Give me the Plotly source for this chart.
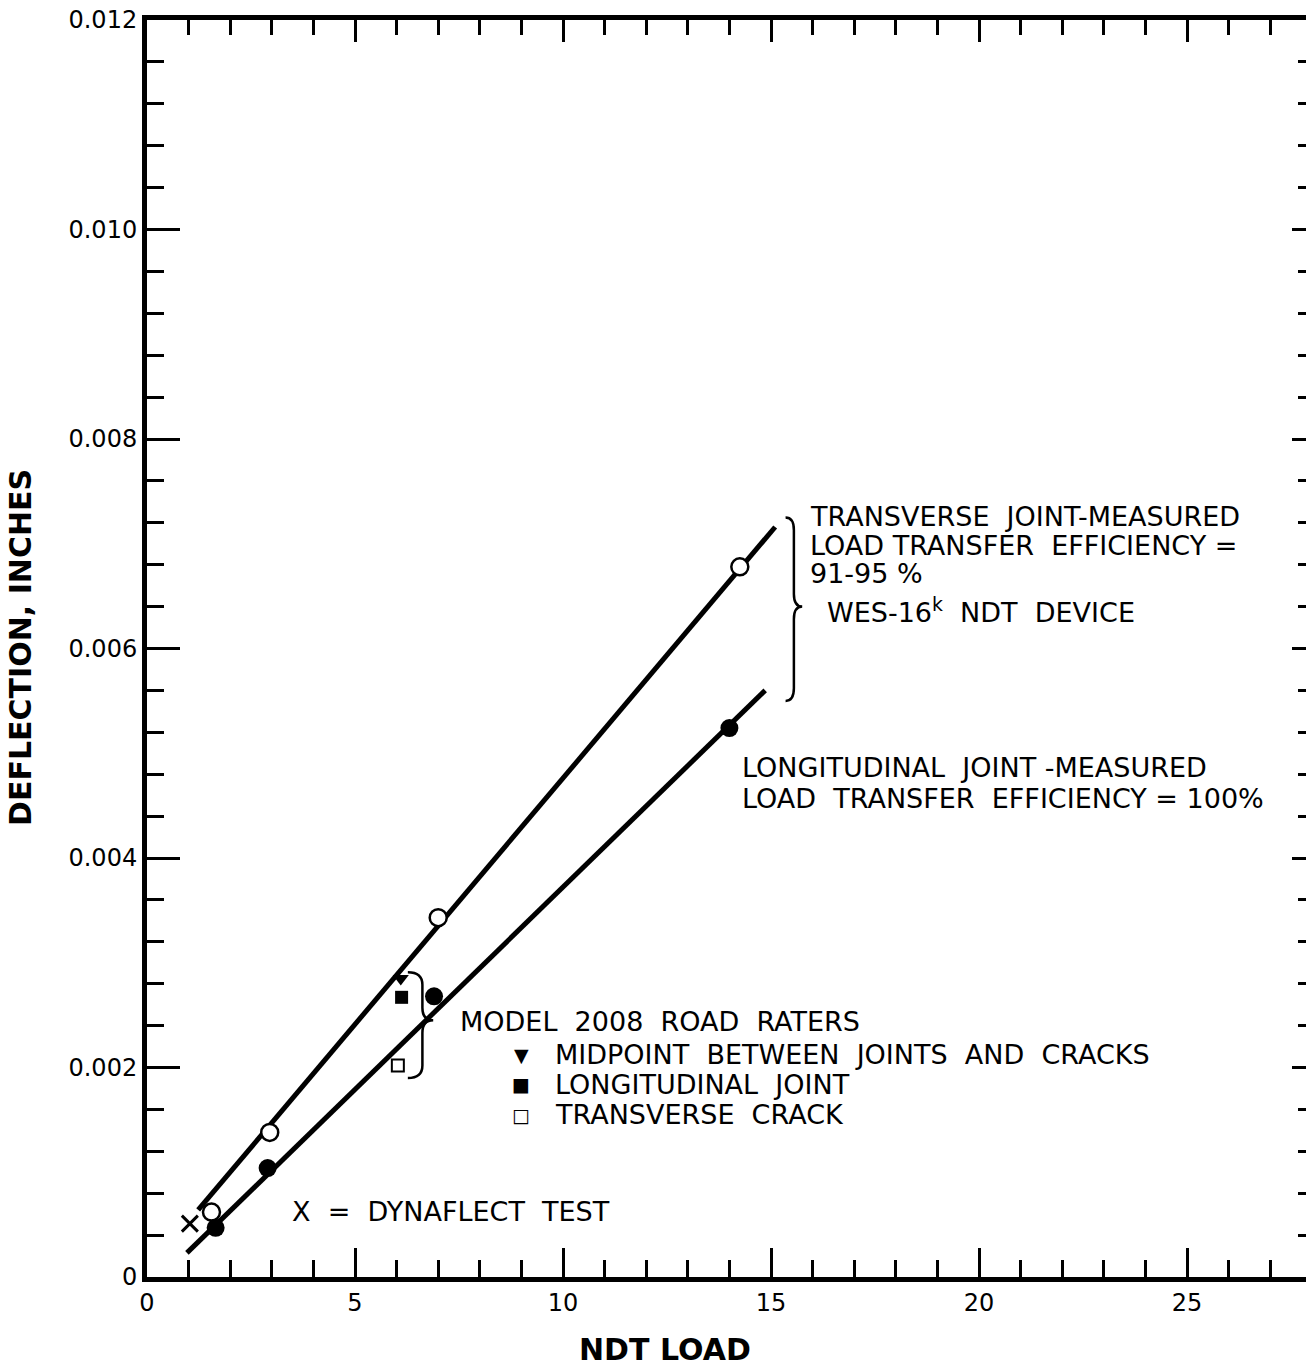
import plotly.graph_objects as go

# NDT load (kips) vs. deflection (inches)
transverse_load = [1.55, 2.95, 7.0, 14.25]
transverse_defl = [0.00062, 0.00138, 0.00343, 0.00678]

longitudinal_load = [1.65, 2.9, 6.9, 14.0]
longitudinal_defl = [0.00047, 0.00104, 0.00268, 0.00524]

# fitted lines (end points)
transverse_fit_load = [1.23, 15.1]
transverse_fit_defl = [0.00064, 0.00716]
longitudinal_fit_load = [0.96, 14.86]
longitudinal_fit_defl = [0.00023, 0.0056]

# Model 2008 Road Rater readings
rr_midpoint_load = [6.1]
rr_midpoint_defl = [0.00285]
rr_longjoint_load = [6.12]
rr_longjoint_defl = [0.00267]
rr_transcrack_load = [6.03]
rr_transcrack_defl = [0.00202]

# Dynaflect test
dynaflect_load = [1.03]
dynaflect_defl = [0.00051]

x_tick_vals = [0, 5, 10, 15, 20, 25]
x_tick_text = ["0", "5", "10", "15", "20", "25"]
y_tick_vals = [0, 0.002, 0.004, 0.006, 0.008, 0.010, 0.012]
y_tick_text = ["0", "0.002", "0.004", "0.006", "0.008", "0.010", "0.012"]

X_RANGE = [0, 27.86]
Y_RANGE = [0, 0.012]

FONT = "DejaVu Sans"
INK = "black"

fig = go.Figure()

fig.add_trace(go.Scatter(x=transverse_fit_load, y=transverse_fit_defl, mode="lines",
                         line=dict(color=INK, width=5), hoverinfo="skip"))
fig.add_trace(go.Scatter(x=longitudinal_fit_load, y=longitudinal_fit_defl, mode="lines",
                         line=dict(color=INK, width=5), hoverinfo="skip"))

fig.add_trace(go.Scatter(x=transverse_load, y=transverse_defl, mode="markers",
                         marker=dict(symbol="circle", size=17, color="white",
                                     line=dict(color=INK, width=2.5))))
fig.add_trace(go.Scatter(x=longitudinal_load, y=longitudinal_defl, mode="markers",
                         marker=dict(symbol="circle", size=18, color=INK,
                                     line=dict(color=INK, width=0))))
fig.add_trace(go.Scatter(x=rr_midpoint_load, y=rr_midpoint_defl, mode="markers",
                         marker=dict(symbol="triangle-down", size=14, color=INK)))
fig.add_trace(go.Scatter(x=rr_longjoint_load, y=rr_longjoint_defl, mode="markers",
                         marker=dict(symbol="square", size=13, color=INK)))
fig.add_trace(go.Scatter(x=rr_transcrack_load, y=rr_transcrack_defl, mode="markers",
                         marker=dict(symbol="square", size=12, color="white",
                                     line=dict(color=INK, width=2))))
fig.add_trace(go.Scatter(x=dynaflect_load, y=dynaflect_defl, mode="markers",
                         marker=dict(symbol="x-thin", size=16,
                                     line=dict(color=INK, width=3))))


def brace(x_hook, x_spine, x_tip, y_top, y_mid, y_bot, r):
    """Right-pointing curly brace as an SVG path in data coordinates."""
    return (f"M {x_hook},{y_top} Q {x_spine},{y_top} {x_spine},{y_top - r} "
            f"L {x_spine},{y_mid + r} Q {x_spine},{y_mid} {x_tip},{y_mid} "
            f"Q {x_spine},{y_mid} {x_spine},{y_mid - r} "
            f"L {x_spine},{y_bot + r} Q {x_spine},{y_bot} {x_hook},{y_bot}")


fig.add_shape(type="path", xref="x", yref="y",
              path=brace(15.35, 15.55, 15.75, 0.00725, 0.0064, 0.0055, 0.00012),
              line=dict(color=INK, width=2.5))
fig.add_shape(type="path", xref="x", yref="y",
              path=brace(6.27, 6.62, 6.88, 0.00291, 0.00245, 0.00190, 0.00012),
              line=dict(color=INK, width=2.5))

text_font = dict(family=FONT, size=27, color=INK)
notes = [
    (15.89, 0.00726, "TRANSVERSE  JOINT-MEASURED"),
    (15.89, 0.00698, "LOAD TRANSFER  EFFICIENCY ="),
    (15.89, 0.00672, "91-95 %"),
    (16.3, 0.00636, "WES-16<sup>k</sup>  NDT  DEVICE"),
    (14.25, 0.00486, "LONGITUDINAL  JOINT -MEASURED"),
    (14.25, 0.00457, "LOAD  TRANSFER  EFFICIENCY = 100%"),
    (7.48, 0.00244, "MODEL  2008  ROAD  RATERS"),
    (9.75, 0.00212, "MIDPOINT  BETWEEN  JOINTS  AND  CRACKS"),
    (9.75, 0.00184, "LONGITUDINAL  JOINT"),
    (9.75, 0.00155, "TRANSVERSE  CRACK"),
    (3.44, 0.00063, "X  =  DYNAFLECT  TEST"),
]
for x, y, t in notes:
    fig.add_annotation(x=x, y=y, xref="x", yref="y", text=t, showarrow=False,
                       xanchor="left", yanchor="middle", font=text_font)

# key symbols for the Road Rater readings
key_symbols = [(9.0, 0.00212, "▼"), (9.0, 0.00184, "■"), (9.0, 0.00155, "□")]
for x, y, s in key_symbols:
    fig.add_annotation(x=x, y=y, xref="x", yref="y", text=s, showarrow=False,
                       xanchor="center", yanchor="middle",
                       font=dict(family=FONT, size=19, color=INK))

# axis titles
title_font = dict(family=FONT, size=30, color=INK, weight="bold")
fig.add_annotation(x=0.447, y=-0.058, xref="paper", yref="paper", text="NDT LOAD",
                   showarrow=False, xanchor="center", yanchor="middle", font=title_font)
fig.add_annotation(x=-0.109, y=0.501, xref="paper", yref="paper", text="DEFLECTION, INCHES",
                   showarrow=False, xanchor="center", yanchor="middle", textangle=-90,
                   font=title_font)

tick_font = dict(family=FONT, size=24, color=INK)

fig.update_layout(
    width=1306, height=1366,
    margin=dict(l=147, r=0, t=20, b=89),
    paper_bgcolor="white", plot_bgcolor="white",
    showlegend=False,
    xaxis=dict(range=X_RANGE, tickmode="array", tickvals=x_tick_vals, ticktext=x_tick_text,
               ticks="inside", ticklen=29, tickwidth=3, tickcolor=INK,
               minor=dict(tickmode="linear", tick0=0, dtick=1, ticks="inside",
                          ticklen=17, tickwidth=3, tickcolor=INK),
               showline=True, linewidth=5, linecolor=INK, showgrid=False, zeroline=False,
               tickfont=tick_font),
    yaxis=dict(range=Y_RANGE, tickmode="array", tickvals=y_tick_vals, ticktext=y_tick_text,
               ticks="inside", ticklen=33, tickwidth=3, tickcolor=INK,
               minor=dict(tickmode="linear", tick0=0, dtick=0.0004, ticks="inside",
                          ticklen=17, tickwidth=3, tickcolor=INK),
               showline=True, linewidth=5, linecolor=INK, showgrid=False, zeroline=False,
               tickfont=tick_font),
    xaxis2=dict(range=X_RANGE, overlaying="x", side="top", tickmode="array",
                tickvals=x_tick_vals, showticklabels=False,
                ticks="inside", ticklen=22, tickwidth=3, tickcolor=INK,
                minor=dict(tickmode="linear", tick0=0, dtick=1, ticks="inside",
                           ticklen=15, tickwidth=3, tickcolor=INK),
                showline=True, linewidth=5, linecolor=INK, showgrid=False, zeroline=False),
    yaxis2=dict(range=Y_RANGE, overlaying="y", side="right", tickmode="array",
                tickvals=y_tick_vals, showticklabels=False,
                ticks="inside", ticklen=14, tickwidth=3, tickcolor=INK,
                minor=dict(tickmode="linear", tick0=0, dtick=0.0004, ticks="inside",
                           ticklen=8, tickwidth=3, tickcolor=INK),
                showline=False, showgrid=False, zeroline=False),
)

# empty trace so the top / right axes are laid out
fig.add_trace(go.Scatter(x=[None], y=[None], xaxis="x2", yaxis="y2", showlegend=False))

fig.write_html("out.html")
